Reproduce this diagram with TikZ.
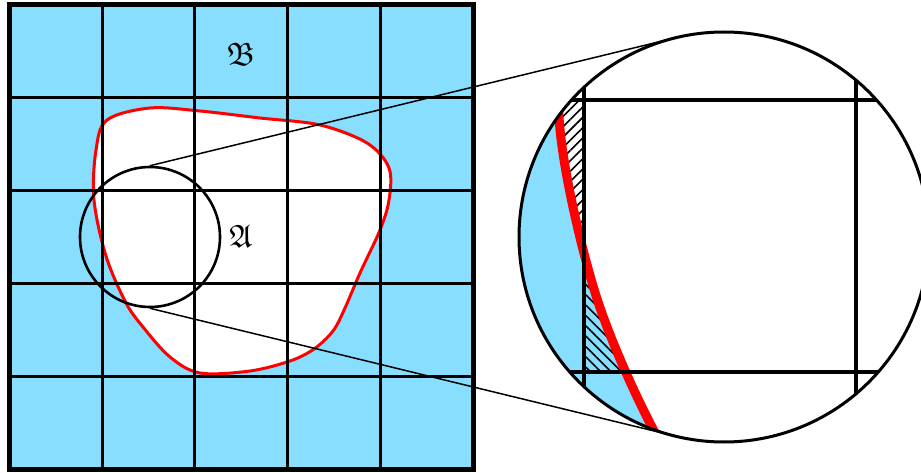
\documentclass[tikz,border=0pt]{standalone}
\usepackage{amssymb}
\usetikzlibrary{patterns.meta}
\definecolor{cellblue}{RGB}{135,222,255}
\tikzset{
  gridline/.style={line width=3pt},
  frameline/.style={line width=5pt},
  zoomgrid/.style={line width=4pt},
  redcurve/.style={draw=red, line width=3pt},
  zoomred/.style={draw=red, line width=9pt},
  lensstyle/.style={circle, draw, line width=2.6pt, minimum size=140pt, inner sep=0pt},
  magstyle/.style={circle, draw, line width=3pt, minimum size=410pt, inner sep=0pt},
  connector/.style={line width=1.5pt},
  letter/.style={inner sep=0pt, scale=1.3, font=\fontsize{24.88}{30}\selectfont},
  hatchNE/.style={pattern={Lines[angle=45,distance=7.3pt,line width=1.6pt]}, pattern color=black},
  hatchNW/.style={pattern={Lines[angle=-45,distance=7.3pt,line width=1.6pt]}, pattern color=black},
}
\def\blob{plot[smooth cycle, tension=0.55] coordinates {(107,120) (150,108) (200,111) (260,118) (320,125) (367,143) (389,168) (389,200) (380,230) (360,273) (345,308) (333,331) (314,349) (290,361) (250,371) (200,373) (170,357) (143,327) (125.5,302) (106,256) (94,200) (96,150)}}
\begin{document}
\begin{tikzpicture}[x=1pt,y=-1pt]
\useasboundingbox (0,0) rectangle (921,473);
\clip (0,0) rectangle (921,473);
% left grid
\fill[cellblue] (9.3,4.2) rectangle (473.3,469.2);
\fill[white] \blob;
\draw[redcurve] \blob;
\foreach \gx in {102.1,194.9,287.7,380.5}
  \draw[gridline] (\gx,4.2) -- (\gx,469.2);
\foreach \gy in {97.2,190.2,283.2,376.2}
  \draw[gridline] (9.3,\gy) -- (473.3,\gy);
\draw[frameline] (9.3,4.2) rectangle (473.3,469.2);
\node[letter] (labB) at (241,54) {$\mathfrak{B}$};
\node[letter] (labA) at (241,236) {$\mathfrak{A}$};
% magnified view
\begin{scope}[shift={(284.5,-457.4)}, x=2.93pt, y=-2.93pt]
  \clip (150,237) circle[radius=70];
  \fill[cellblue] (60,150) rectangle (240,330);
  \fill[hatchNW] (102.1,190.2) rectangle (194.9,283.2);
  \fill[white] \blob;
  \begin{scope}
    \clip \blob;
    \fill[hatchNE] (9.3,190.2) rectangle (102.1,283.2);
  \end{scope}
  \draw[zoomred] \blob;
  \foreach \gx in {102.1,194.9}
    \draw[zoomgrid] (\gx,150) -- (\gx,330);
  \foreach \gy in {190.2,283.2}
    \draw[zoomgrid] (60,\gy) -- (240,\gy);
\end{scope}
\node[magstyle] (mag) at (724,237) {};
\node[lensstyle] (lens) at (150,237) {};
\coordinate (tTop) at (675.1,37.9);
\coordinate (tBot) at (675.1,436.1);
\draw[connector] (lens.north) -- (tTop);
\draw[connector] (lens.south) -- (tBot);
\end{tikzpicture}
\end{document}
